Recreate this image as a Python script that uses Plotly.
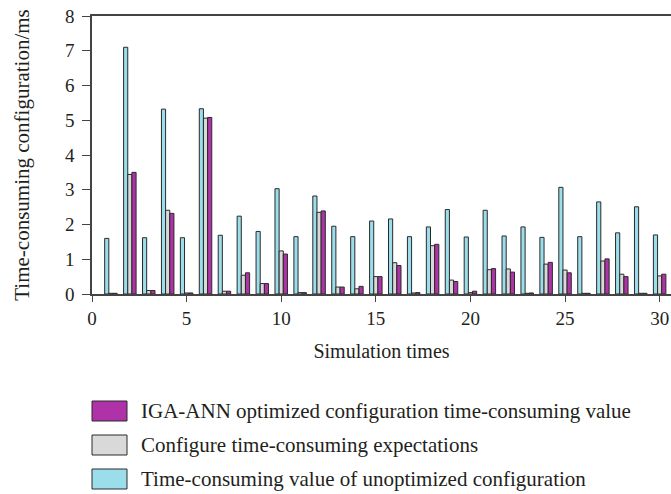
import plotly.graph_objects as go

sim_times = list(range(1, 31))
unoptimized = [1.6, 7.1, 1.62, 5.32, 1.62, 5.33, 1.69, 2.24, 1.8, 3.03,
               1.65, 2.82, 1.95, 1.65, 2.1, 2.16, 1.65, 1.93, 2.43, 1.64,
               2.41, 1.67, 1.93, 1.63, 3.07, 1.65, 2.65, 1.76, 2.51, 1.7]
expectations = [0.02, 3.44, 0.1, 2.41, 0.03, 5.06, 0.08, 0.54, 0.3, 1.24,
                0.04, 2.35, 0.2, 0.15, 0.5, 0.9, 0.03, 1.39, 0.4, 0.04,
                0.7, 0.72, 0.02, 0.86, 0.69, 0.02, 0.95, 0.57, 0.02, 0.52]
iga_ann = [0.02, 3.5, 0.1, 2.32, 0.03, 5.08, 0.08, 0.61, 0.3, 1.15,
           0.04, 2.39, 0.2, 0.22, 0.5, 0.82, 0.04, 1.43, 0.36, 0.08,
           0.73, 0.63, 0.03, 0.91, 0.61, 0.02, 1.01, 0.5, 0.02, 0.57]

names = ["Time-consuming value of unoptimized configuration",
         "Configure time-consuming expectations",
         "IGA-ANN optimized configuration time-consuming value"]
colors = ["#9BDDEA", "#D9D9D9", "#B032A8"]
series = [unoptimized, expectations, iga_ann]

FONT = "Liberation Serif"
TXT = "#231f20"
W, H = 671, 494
ML, MR, MT, MB = 92, 0, 16, 200
PW, PH = W - ML - MR, H - MT - MB


def px_x(x):
    return (x - ML) / PW


def px_y(y):
    return (H - MB - y) / PH


fig = go.Figure()
for nm, col, vals in zip(names, colors, series):
    fig.add_trace(go.Bar(
        x=sim_times, y=vals, name=nm, showlegend=False,
        marker=dict(color=col, line=dict(color="#2a2a2a", width=1)),
    ))

# legend drawn as swatches + text (top item = last series)
shapes, annos = [], []
centers = [411, 445, 479]
for k, idx in enumerate([2, 1, 0]):
    cy = centers[k]
    shapes.append(dict(type="rect", xref="paper", yref="paper",
                       x0=px_x(92), x1=px_x(127), y0=px_y(cy + 10), y1=px_y(cy - 10),
                       fillcolor=colors[idx], line=dict(color="#2a2a2a", width=1)))
    annos.append(dict(xref="paper", yref="paper", x=px_x(139), y=px_y(cy),
                      xanchor="left", yanchor="middle", showarrow=False,
                      text=names[idx], font=dict(family=FONT, size=21, color=TXT)))

fig.update_layout(
    width=W, height=H,
    margin=dict(l=ML, r=MR, t=MT, b=MB),
    paper_bgcolor="white", plot_bgcolor="white",
    barmode="group", bargap=0.34, bargroupgap=0,
    font=dict(family=FONT, size=19, color=TXT),
    showlegend=False,
    shapes=shapes, annotations=annos,
    xaxis=dict(
        range=[0, 30.6], tickvals=[0, 5, 10, 15, 20, 25, 30],
        showline=True, linecolor="#444", linewidth=1.5, mirror=True,
        ticks="outside", ticklen=6, tickcolor="#444",
        showgrid=False, zeroline=False,
        title=dict(text="Simulation times", standoff=16,
                   font=dict(family=FONT, size=20)),
    ),
    yaxis=dict(
        range=[0, 8], dtick=1,
        showline=True, linecolor="#444", linewidth=1.5,
        ticks="outside", ticklen=8, tickcolor="#444",
        ticklabelstandoff=4,
        showgrid=False, zeroline=False,
        title=dict(text="Time-consuming configuration/ms", standoff=30,
                   font=dict(family=FONT, size=21)),
    ),
)

fig.write_html("out.html")
